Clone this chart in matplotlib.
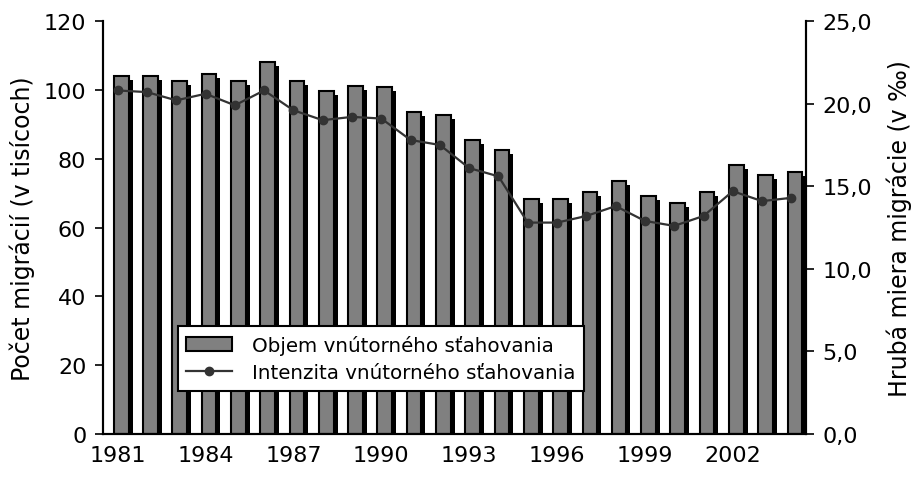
import numpy as np
import matplotlib
matplotlib.use("Agg")
import matplotlib.pyplot as plt
import matplotlib.transforms as mtransforms
from matplotlib.ticker import FuncFormatter

years = list(range(1981, 2005))
objem = [104.1, 104.0, 102.6, 104.6, 102.6, 108.1, 102.6, 99.7, 101.0, 100.9,
         93.5, 92.8, 85.5, 82.4, 68.3, 68.3, 70.2, 73.6, 69.1, 67.2,
         70.2, 78.3, 75.4, 76.0]
intenzita = [20.8, 20.7, 20.2, 20.6, 19.9, 20.8, 19.6, 19.0, 19.2, 19.1,
             17.8, 17.5, 16.1, 15.6, 12.8, 12.8, 13.2, 13.8, 12.9, 12.6,
             13.2, 14.7, 14.1, 14.3]
tick_years = [1981, 1984, 1987, 1990, 1993, 1996, 1999, 2002]

plt.rcParams['font.family'] = ['DejaVu Sans']
fs = 16

fig = plt.figure(figsize=(9.15, 4.81), dpi=100)
ax = fig.add_axes([0.1126, 0.0956, 0.7683, 0.8585])
ax2 = ax.twinx()

x = np.arange(len(years))
bx = x + 0.12
w = 0.5

# shadow bars, shifted right and down a few pixels
shadow = mtransforms.offset_copy(ax.transData, fig=fig, x=4, y=-4, units='dots')
ax.bar(bx, objem, width=w, color='black', edgecolor='black', linewidth=0,
       transform=shadow, zorder=1)
bars = ax.bar(bx, objem, width=w, color='#808080', edgecolor='black',
              linewidth=1.5, zorder=2, label='Objem vnútorného sťahovania')

line, = ax2.plot(x, intenzita, color='#333333', linewidth=1.6, marker='o',
                 markersize=6, label='Intenzita vnútorného sťahovania')

ax.set_xlim(-0.5, len(years) - 0.5)
ax.set_ylim(0, 120)
ax.set_yticks(range(0, 121, 20))
ax2.set_ylim(0, 25)
ax2.set_yticks(np.arange(0, 25.1, 5))
ax2.yaxis.set_major_formatter(FuncFormatter(lambda v, p: ('%.1f' % v).replace('.', ',')))

ax.set_xticks([years.index(y) for y in tick_years])
ax.set_xticklabels([str(y) for y in tick_years])
ax.tick_params(axis='x', length=0, labelsize=fs, pad=8)
ax.tick_params(axis='y', length=6, width=1.2, labelsize=fs, pad=6)
ax2.tick_params(axis='y', length=6, width=1.2, labelsize=fs, pad=6)

for a in (ax, ax2):
    a.spines['top'].set_visible(False)
    for s in ('left', 'right', 'bottom'):
        a.spines[s].set_linewidth(1.5)

ax.set_ylabel('Počet migrácií (v tisícoch)', fontsize=17, labelpad=6)
ax2.set_ylabel('Hrubá miera migrácie (v ‰)', fontsize=17, labelpad=10)

leg = ax.legend([bars, line], ['Objem vnútorného sťahovania',
                               'Intenzita vnútorného sťahovania'],
                loc='upper left', bbox_to_anchor=(0.106, 0.261), fontsize=14.3,
                frameon=True, fancybox=False, edgecolor='black', framealpha=1,
                borderpad=0.45, labelspacing=0.4, handlelength=2.3,
                handletextpad=1.0, borderaxespad=0)
leg.get_frame().set_linewidth(1.5)
leg.set_zorder(5)

fig.savefig('out.png', dpi=100)
